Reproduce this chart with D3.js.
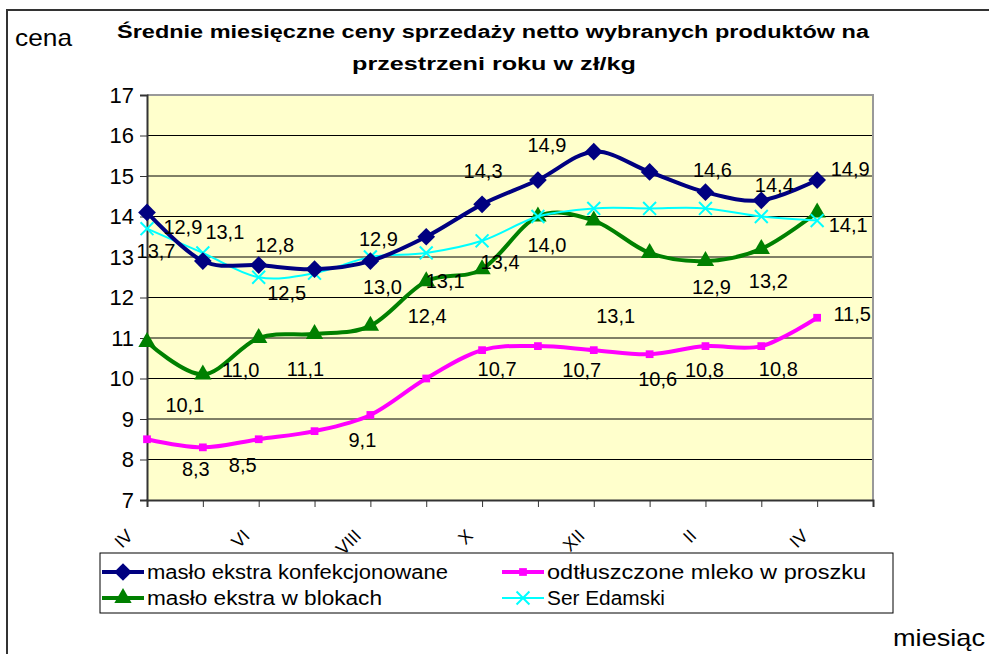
<!DOCTYPE html>
<html>
<head>
<meta charset="utf-8">
<script src="https://cdn.jsdelivr.net/npm/d3@7"></script>
<style>
  body { margin: 0; background: #fff; }
  text { font-family: Arial, "Liberation Sans", sans-serif; fill: #000; }
</style>
</head>
<body>
<div id="chart"></div>
<script>
// Miesiące (13 punktów, co drugi podpisany)
const months = ["IV", "V", "VI", "VII", "VIII", "IX", "X", "XI", "XII", "I", "II", "III", "IV"];
const shownMonths = [0, 2, 4, 6, 8, 10, 12];
const yTicks = [7, 8, 9, 10, 11, 12, 13, 14, 15, 16, 17];

// Ceny w zł/kg
const masloKonf = [14.1, 12.9, 12.8, 12.7, 12.9, 13.5, 14.3, 14.9, 15.6, 15.1, 14.6, 14.4, 14.9];
const mleko = [8.5, 8.3, 8.5, 8.7, 9.1, 10.0, 10.7, 10.8, 10.7, 10.6, 10.8, 10.8, 11.5];
const masloBlok = [10.9, 10.1, 11.0, 11.1, 11.3, 12.4, 12.7, 14.0, 13.9, 13.1, 12.9, 13.2, 14.1];
const ser = [13.7, 13.1, 12.5, 12.6, 13.0, 13.1, 13.4, 14.0, 14.2, 14.2, 14.2, 14.0, 13.9];

const series = [
  { key: "konf", name: "masło ekstra konfekcjonowane", values: masloKonf, color: "#000080", width: 4, marker: "diamond", textW: 301 },
  { key: "mleko", name: "odtłuszczone mleko w proszku", values: mleko, color: "#FF00FF", width: 4, marker: "square", textW: 319 },
  { key: "blok", name: "masło ekstra w blokach", values: masloBlok, color: "#008000", width: 4, marker: "triangle", textW: 235 },
  { key: "ser", name: "Ser Edamski", values: ser, color: "#00FFFF", width: 2, marker: "cross", textW: 118 }
];

// Podpisy danych: [seria, punkt, przesunięcie x, przesunięcie y]
const labelOffsets = [
  ["konf", 1, -20, -34], ["konf", 2, 16, -20], ["konf", 4, 8, -22], ["konf", 6, 1, -34],
  ["konf", 7, 9, -35], ["konf", 10, 7, -22], ["konf", 11, 13, -16], ["konf", 12, 33, -11],
  ["ser", 0, 9, 22], ["ser", 1, 22, -21], ["ser", 2, 28, 16], ["ser", 4, 12, 30],
  ["ser", 5, 19, 28], ["ser", 6, 18, 21], ["ser", 7, 9, 28],
  ["blok", 1, -18, 30], ["blok", 2, -18, 32], ["blok", 3, -9, 35], ["blok", 5, 1, 34],
  ["blok", 9, -34, 63], ["blok", 10, 6, 26], ["blok", 11, 7, 32], ["blok", 12, 31, 12],
  ["mleko", 1, -7, 21], ["mleko", 2, -16, 26], ["mleko", 4, -8, 25], ["mleko", 6, 15, 19],
  ["mleko", 8, -12, 20], ["mleko", 9, 8, 25], ["mleko", 10, -1, 24], ["mleko", 11, 17, 23],
  ["mleko", 12, 35, -4]
];

const width = 989;
const height = 654;
const plot = { left: 147, right: 873, top: 95, bottom: 500 };

const svg = d3.select("#chart").append("svg")
  .attr("width", width)
  .attr("height", height);

// Ramka obszaru wykresu
svg.append("path")
  .attr("d", `M7,${height} L7,10 L${width},10`)
  .attr("fill", "none")
  .attr("stroke", "#333")
  .attr("stroke-width", 2);

const x = d3.scaleLinear().domain([0, 13]).range([plot.left, plot.right]);
const y = d3.scaleLinear().domain([7, 17]).range([plot.bottom, plot.top]);

// Tło
svg.append("rect")
  .attr("x", plot.left).attr("y", plot.top)
  .attr("width", plot.right - plot.left).attr("height", plot.bottom - plot.top)
  .attr("fill", "#FFFFCC");

// Siatka
svg.append("g")
  .selectAll("line")
  .data(yTicks.filter((d) => d > 7 && d < 17))
  .enter().append("line")
  .attr("x1", plot.left).attr("x2", plot.right)
  .attr("y1", (d) => y(d)).attr("y2", (d) => y(d))
  .attr("stroke", "#000").attr("stroke-width", 1);

// Ramka szara (góra, prawo)
svg.append("path")
  .attr("d", `M${plot.left},${plot.top} L${plot.right},${plot.top} L${plot.right},${plot.bottom}`)
  .attr("fill", "none").attr("stroke", "#999").attr("stroke-width", 2);

// Oś Y
const yAxis = svg.append("g")
  .attr("transform", `translate(${plot.left},0)`)
  .call(d3.axisLeft(y).tickValues(yTicks).tickSize(7).tickPadding(6).tickFormat(d3.format("d")));
yAxis.select(".domain").attr("stroke", "#333").attr("stroke-width", 2);
yAxis.selectAll(".tick line").attr("stroke", "#333");
yAxis.selectAll("text").style("font-size", "22px").attr("fill", "#000");

// Oś X
const xAxis = svg.append("g")
  .attr("transform", `translate(0,${plot.bottom})`)
  .call(d3.axisBottom(x).tickValues(d3.range(0, 14)).tickSize(7).tickFormat(""));
xAxis.select(".domain").attr("stroke", "#333").attr("stroke-width", 2);
xAxis.selectAll(".tick line").attr("stroke", "#333");

svg.append("g")
  .selectAll("text")
  .data(shownMonths)
  .enter().append("text")
  .attr("transform", (d) => `translate(${x(d) - (d === 0 ? 13 : 8)},${plot.bottom + 37}) rotate(-45)`)
  .attr("text-anchor", "end")
  .style("font-size", "18px")
  .text((d) => months[d]);

// Linie
const line = d3.line()
  .x((d, i) => x(i))
  .y((d) => y(d))
  .curve(d3.curveCatmullRom.alpha(0));

const symbolFor = {
  diamond: d3.symbol().type(d3.symbolDiamond2).size(200),
  square: d3.symbol().type(d3.symbolSquare).size(60),
  triangle: d3.symbol().type(d3.symbolTriangle).size(130),
  cross: d3.symbol().type(d3.symbolX).size(110)
};

function drawMarker(g, s, cx, cy) {
  const p = g.append("path")
    .attr("transform", `translate(${cx},${cy})`)
    .attr("d", symbolFor[s.marker]());
  if (s.marker === "cross") {
    p.attr("fill", "none").attr("stroke", s.color).attr("stroke-width", 2);
  } else {
    p.attr("fill", s.color);
  }
}

const drawOrder = ["mleko", "blok", "ser", "konf"];
drawOrder.forEach((k) => {
  const s = series.find((d) => d.key === k);
  const g = svg.append("g");
  g.append("path")
    .datum(s.values)
    .attr("d", line)
    .attr("fill", "none")
    .attr("stroke", s.color)
    .attr("stroke-width", s.width)
    .attr("stroke-linejoin", "round");
  s.values.forEach((v, i) => drawMarker(g, s, x(i), y(v)));
});

// Podpisy danych
const fmt = (v) => d3.format(".1f")(v).replace(".", ",");
svg.append("g")
  .selectAll("text")
  .data(labelOffsets)
  .enter().append("text")
  .attr("x", (d) => x(d[1]) + d[2])
  .attr("y", (d) => y(series.find((s) => s.key === d[0]).values[d[1]]) + d[3])
  .attr("dy", "0.36em")
  .attr("text-anchor", "middle")
  .style("font-size", "20px")
  .text((d) => fmt(series.find((s) => s.key === d[0]).values[d[1]]));

// Tytuł
svg.append("text")
  .attr("x", 493).attr("y", 38)
  .attr("text-anchor", "middle")
  .attr("textLength", 752).attr("lengthAdjust", "spacingAndGlyphs")
  .style("font-size", "18px").style("font-weight", "bold")
  .text("Średnie miesięczne ceny sprzedaży netto  wybranych produktów na");
svg.append("text")
  .attr("x", 494).attr("y", 70)
  .attr("text-anchor", "middle")
  .attr("textLength", 284).attr("lengthAdjust", "spacingAndGlyphs")
  .style("font-size", "18px").style("font-weight", "bold")
  .text("przestrzeni roku w zł/kg");

svg.append("text")
  .attr("x", 15).attr("y", 46)
  .attr("textLength", 57).attr("lengthAdjust", "spacingAndGlyphs")
  .style("font-size", "24px")
  .text("cena");

svg.append("text")
  .attr("x", 893).attr("y", 646)
  .attr("textLength", 92).attr("lengthAdjust", "spacingAndGlyphs")
  .style("font-size", "24px")
  .text("miesiąc");

// Legenda
const legend = svg.append("g");
legend.append("rect")
  .attr("x", 100).attr("y", 553)
  .attr("width", 793).attr("height", 60)
  .attr("fill", "#fff").attr("stroke", "#000").attr("stroke-width", 1);

const legendOrder = ["konf", "mleko", "blok", "ser"];
legendOrder.forEach((k, i) => {
  const s = series.find((d) => d.key === k);
  const lx = i % 2 === 0 ? 102 : 502;
  const ly = i < 2 ? 572 : 598;
  const g = legend.append("g");
  g.append("line")
    .attr("x1", lx).attr("x2", lx + 42)
    .attr("y1", ly).attr("y2", ly)
    .attr("stroke", s.color).attr("stroke-width", s.width);
  drawMarker(g, s, lx + 21, ly);
  g.append("text")
    .attr("x", lx + 45).attr("y", ly)
    .attr("dy", "0.36em")
    .attr("textLength", s.textW).attr("lengthAdjust", "spacingAndGlyphs")
    .style("font-size", "20px")
    .text(s.name);
});
</script>
</body>
</html>
